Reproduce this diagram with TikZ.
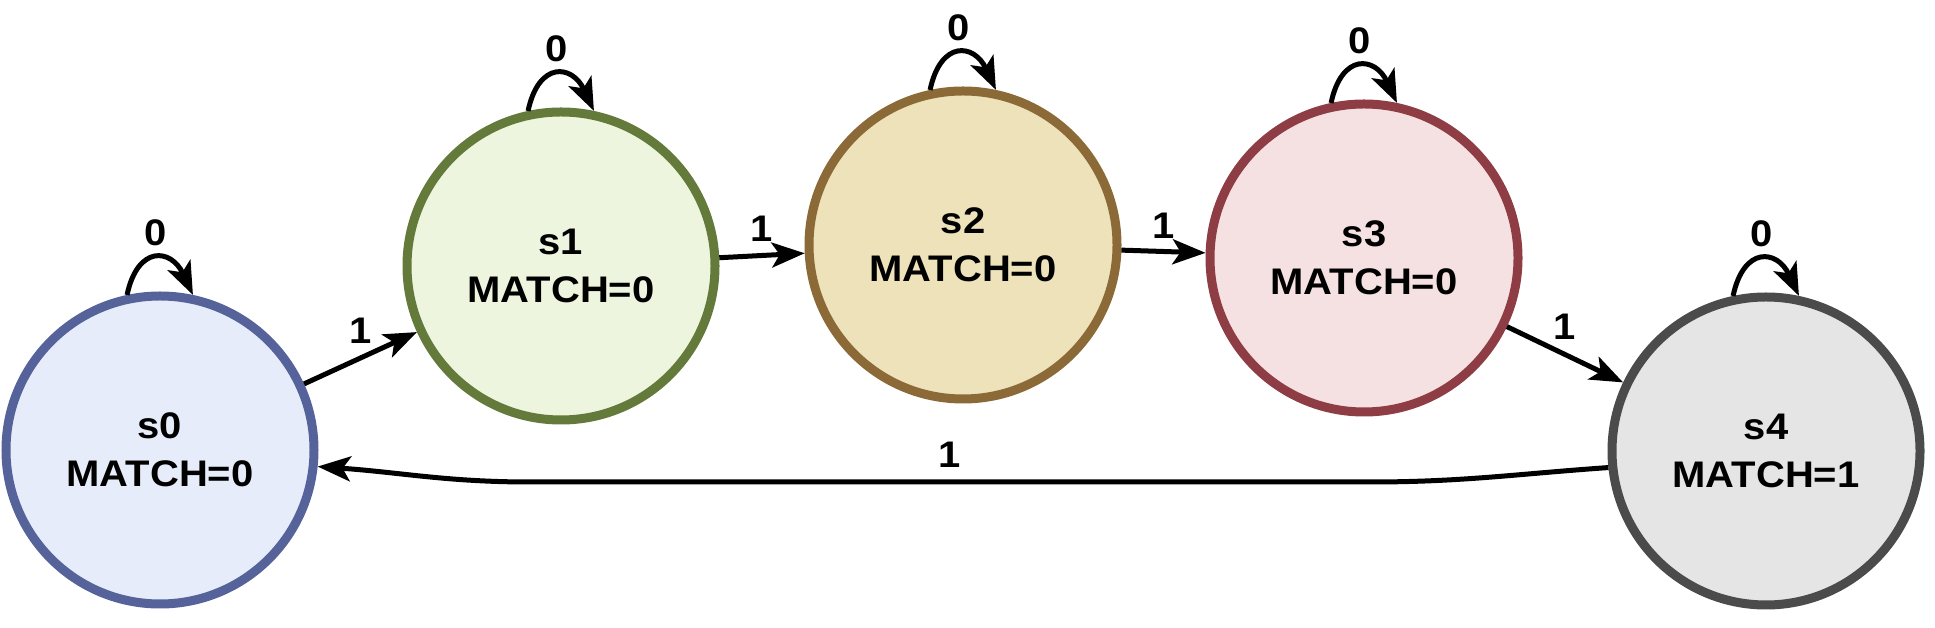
\documentclass[tikz,border=0pt]{standalone}
\usepackage{fontspec}
\setmainfont{Liberation Sans}[FakeStretch=1.08]
\usetikzlibrary{arrows.meta,calc}
\definecolor{fz}{HTML}{E6ECF9}\definecolor{dz}{HTML}{55639A}
\definecolor{fa}{HTML}{EDF5DE}\definecolor{da}{HTML}{637A3A}
\definecolor{fb}{HTML}{EDE2BA}\definecolor{db}{HTML}{8C6A38}
\definecolor{fc}{HTML}{F5E1E1}\definecolor{dc}{HTML}{8F3D44}
\definecolor{fd}{HTML}{E5E5E5}\definecolor{dd}{HTML}{4B4B4B}
\begin{document}
\begin{tikzpicture}[x=1pt,y=1pt,
  state/.style={circle, minimum size=308pt, inner sep=0pt, line width=9pt,
    font=\bfseries\fontsize{37}{48}\selectfont, align=center},
  edge/.style={line width=5pt, -{Stealth[length=33pt,width=25pt,inset=8pt]}},
  lbl/.style={font=\bfseries\fontsize{37}{40}\selectfont, inner sep=0pt},
  selfloop/.style={edge, out=78, in=115, looseness=2.0}]
\useasboundingbox (0,0) rectangle (1935,628);
\node[state, draw=dz, fill=fz] (s0) at (160,178) {s0\\MATCH=0};
\node[state, draw=da, fill=fa] (s1) at (561,362) {s1\\MATCH=0};
\node[state, draw=db, fill=fb] (s2) at (963,383) {s2\\MATCH=0};
\node[state, draw=dc, fill=fc] (s3) at (1364,370) {s3\\MATCH=0};
\node[state, draw=dd, fill=fd] (s4) at (1766,177) {s4\\MATCH=1};
\coordinate (k1) at (1370,146);
\coordinate (k2) at (530,146);
% self loops
\draw[selfloop] (s0.102) to node[lbl, midway, above=10pt] (l0) {0} (s0.78);
\draw[selfloop] (s1.102) to node[lbl, midway, above=10pt] (l1) {0} (s1.78);
\draw[selfloop] (s2.102) to node[lbl, midway, above=10pt] (l2) {0} (s2.78);
\draw[selfloop] (s3.102) to node[lbl, midway, above=10pt] (l3) {0} (s3.78);
\draw[selfloop] (s4.102) to node[lbl, midway, above=10pt] (l4) {0} (s4.78);
% transitions
\draw[edge] (s0) -- node[lbl, midway, above=12pt] (t01) {1} (s1);
\draw[edge] (s1) -- node[lbl, midway, above=11pt] (t12) {1} (s2);
\draw[edge] (s2) -- node[lbl, midway, above=10pt] (t23) {1} (s3);
\draw[edge] (s3) -- node[lbl, midway, above=12pt] (t34) {1} (s4);
\draw[edge] (s4.186) to[out=184, in=0] (k1) -- node[lbl, midway, above=12pt] (t40) {1} (k2) to[out=180, in=-4] (s0.-6);
\end{tikzpicture}
\end{document}
